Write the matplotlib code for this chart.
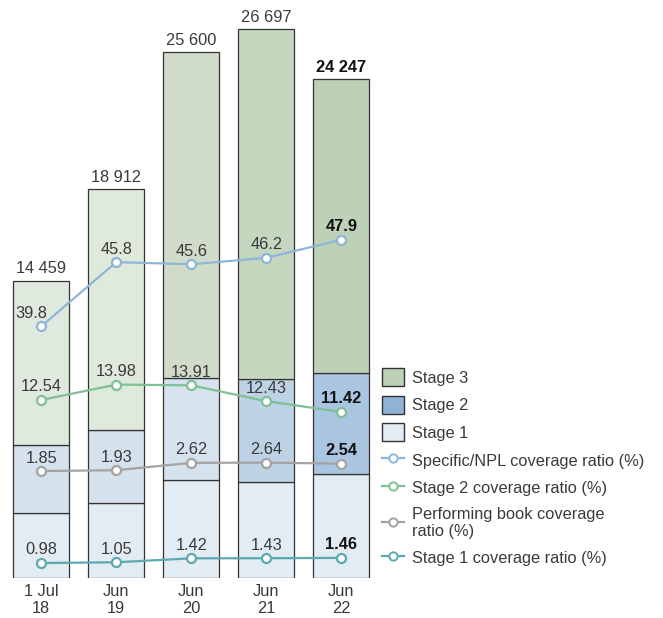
import matplotlib.pyplot as plt
from matplotlib.lines import Line2D
from matplotlib.patches import Patch

plt.rcParams['font.family'] = ['Liberation Sans', 'DejaVu Sans']

periods = ['1 Jul\n18', 'Jun\n19', 'Jun\n20', 'Jun\n21', 'Jun\n22']
totals = [14459, 18912, 25600, 26697, 24247]
stage1 = [3164, 3617, 4757, 4640, 5049]
stage2 = [3310, 3554, 4981, 5034, 4932]
stage3 = [t - a - b for t, a, b in zip(totals, stage1, stage2)]

npl_cov = [39.8, 45.8, 45.6, 46.2, 47.9]
stage2_cov = [12.54, 13.98, 13.91, 12.43, 11.42]
perf_cov = [1.85, 1.93, 2.62, 2.64, 2.54]
stage1_cov = [0.98, 1.05, 1.42, 1.43, 1.46]

total_labels = ['14 459', '18 912', '25 600', '26 697', '24 247']

# colours get darker towards the latest year
c_stage3 = ['#dfe9dd', '#dfe9dc', '#d0dcc9', '#c6d7c0', '#bdd1b7']
c_stage2 = ['#d5e1ed', '#d5e1ed', '#d6e2ee', '#bdd2e5', '#a9c5df']
c_stage1 = ['#e3ebf3'] * 5

txt = '#3a3a3a'
fig = plt.figure(figsize=(6.63, 6.18), dpi=100)
ax = fig.add_axes([0.0, 0.0655, 0.577, 0.9013])

x = list(range(len(periods)))
w = 0.747
ax.bar(x, stage1, w, color=c_stage1, edgecolor='#333333', linewidth=0.9, zorder=2)
ax.bar(x, stage2, w, bottom=stage1, color=c_stage2, edgecolor='#333333', linewidth=0.9, zorder=2)
b12 = [a + b for a, b in zip(stage1, stage2)]
ax.bar(x, stage3, w, bottom=b12, color=c_stage3, edgecolor='#333333', linewidth=0.9, zorder=2)

for i, t in enumerate(totals):
    bold = i == len(totals) - 1
    ax.annotate(total_labels[i], (i, t), xytext=(0, 3), textcoords='offset points',
                ha='center', va='bottom', fontsize=11.8, color='#111111' if bold else txt,
                fontweight='bold' if bold else 'normal')

ax.set_xlim(-0.55, 4.55)
ax.set_ylim(0, 27118)
ax.set_xticks(x)
ax.set_xticklabels(periods, fontsize=11.8, color=txt, linespacing=1.1)
ax.tick_params(axis='x', length=0, pad=5)
ax.set_yticks([])
for s in ax.spines.values():
    s.set_visible(False)

# each ratio line on its own invisible scale
series = [
    (npl_cov, '#8db6d9', (16.3, 68.4)),
    (stage2_cov, '#7fc095', (-4.05, 48.0)),
    (perf_cov, '#a3a3a3', (-8.1, 43.96)),
    (stage1_cov, '#5ca9b1', (-0.375, 51.69)),
]
for vals, col, lim in series:
    tw = ax.twinx()
    tw.set_ylim(*lim)
    tw.set_axis_off()
    tw.plot(x, vals, color=col, lw=1.6, marker='o', ms=6.5, mfc='white', mec=col, mew=1.6, zorder=3)
    for i, v in enumerate(vals):
        bold = i == len(vals) - 1
        tw.annotate(f'{v:g}' if vals is npl_cov else f'{v:.2f}', (i, v),
                    xytext=(-7 if (vals is npl_cov and i == 0) else 0, 4),
                    textcoords='offset points', ha='center', va='bottom', fontsize=11.8,
                    color='#111111' if bold else txt, fontweight='bold' if bold else 'normal')

handles = [
    Patch(facecolor='#bdd1b7', edgecolor='#333333'),
    Patch(facecolor='#8fb3d5', edgecolor='#333333'),
    Patch(facecolor='#e3ebf3', edgecolor='#333333'),
] + [Line2D([], [], color=c, lw=1.6, marker='o', ms=6, mfc='white', mec=c, mew=1.4)
     for _, c, _ in series]
labels = ['Stage 3', 'Stage 2', 'Stage 1', 'Specific/NPL coverage ratio (%)',
          'Stage 2 coverage ratio (%)', 'Performing book coverage\nratio (%)',
          'Stage 1 coverage ratio (%)']
fig.legend(handles, labels, loc='upper left', bbox_to_anchor=(0.567, 0.415), frameon=False,
           fontsize=11.8, labelcolor=txt, handlelength=1.3, handleheight=1.3,
           handletextpad=0.5, labelspacing=0.6, borderaxespad=0)

fig.savefig('out.png', dpi=100)
